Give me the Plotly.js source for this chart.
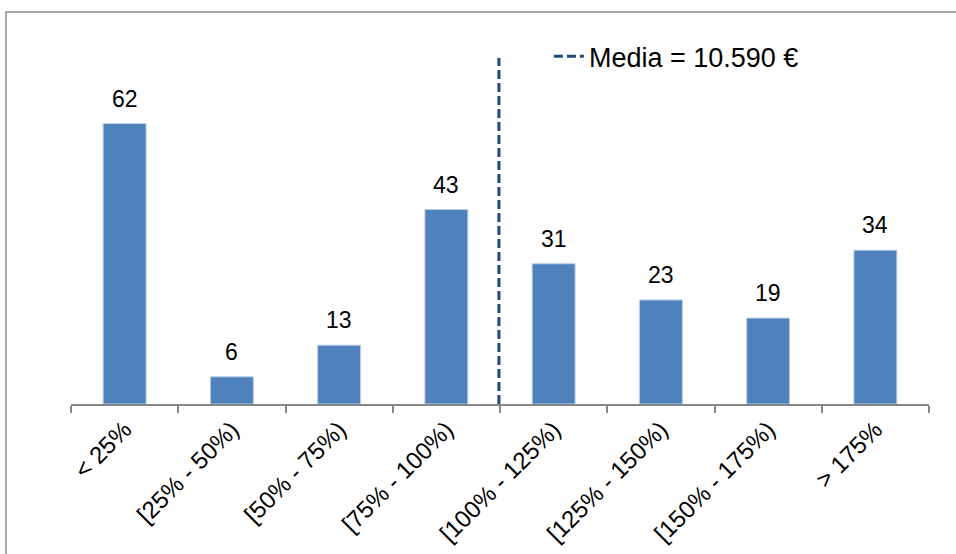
<!DOCTYPE html>
<html>
<head>
<meta charset="utf-8">
<script src="https://cdn.plot.ly/plotly-3.0.1.min.js"></script>
<style>
html,body{margin:0;padding:0;width:956px;height:554px;overflow:hidden;background:#fff;}
#frame{position:absolute;left:5px;top:11px;width:1100px;height:700px;border:2px solid #a6a6a6;box-sizing:border-box;}
#chart{position:absolute;left:0;top:0;width:956px;height:554px;}
</style>
</head>
<body>
<div id="frame"></div>
<div id="chart"></div>
<script>
var categories = ["< 25%", "[25% - 50%)", "[50% - 75%)", "[75% - 100%)", "[100% - 125%)", "[125% - 150%)", "[150% - 175%)", "> 175%"];
var counts = [62, 6, 13, 43, 31, 23, 19, 34];
var meanLabel = "Media = 10.590 €";
var meanPosition = 3.49; // between [75% - 100%) and [100% - 125%)

var font = "Liberation Sans, Arial, sans-serif";

var bars = {
  type: "bar",
  x: categories,
  y: counts,
  width: 0.4,
  marker: {color: "#4F81BD", line: {color: "#B9CDE5", width: 1}},
  showlegend: false,
  hoverinfo: "x+y"
};

var meanLine = {
  type: "scatter",
  mode: "lines",
  x: [meanPosition, meanPosition],
  y: [0, 76.5],
  xaxis: "x2",
  line: {color: "#1F497D", width: 3, dash: "9px,4px"},
  name: meanLabel,
  showlegend: true
};

var annotations = categories.map(function (c, i) {
  return {
    x: c, y: counts[i], xref: "x", yref: "y",
    text: String(counts[i]),
    showarrow: false, yanchor: "bottom", yshift: 10,
    font: {family: font, size: 23, color: "#000"}
  };
});

var layout = {
  width: 956, height: 554,
  margin: {l: 71, r: 27, t: 58, b: 150},
  paper_bgcolor: "rgba(0,0,0,0)",
  plot_bgcolor: "rgba(0,0,0,0)",
  font: {family: font, color: "#000"},
  bargap: 0.6,
  xaxis: {
    type: "category",
    range: [-0.5, 7.5],
    showline: true, linecolor: "#868686", linewidth: 2,
    ticks: "outside", tickson: "boundaries", ticklen: 7, tickcolor: "#868686", tickwidth: 2,
    tickangle: -45,
    tickfont: {family: font, size: 24, color: "#000"},
    showgrid: false, zeroline: false, fixedrange: true
  },
  xaxis2: {
    overlaying: "x", range: [-0.5, 7.5], visible: false, fixedrange: true
  },
  yaxis: {
    range: [0, 76.5], visible: false, showgrid: false, zeroline: false, fixedrange: true
  },
  showlegend: true,
  legend: {
    x: 0.557, xanchor: "left", y: 1.004, yanchor: "middle",
    bgcolor: "rgba(0,0,0,0)",
    font: {family: font, size: 27, color: "#000"}
  },
  annotations: annotations
};

Plotly.newPlot("chart", [bars, meanLine], layout, {displayModeBar: false, staticPlot: true});
</script>
</body>
</html>
